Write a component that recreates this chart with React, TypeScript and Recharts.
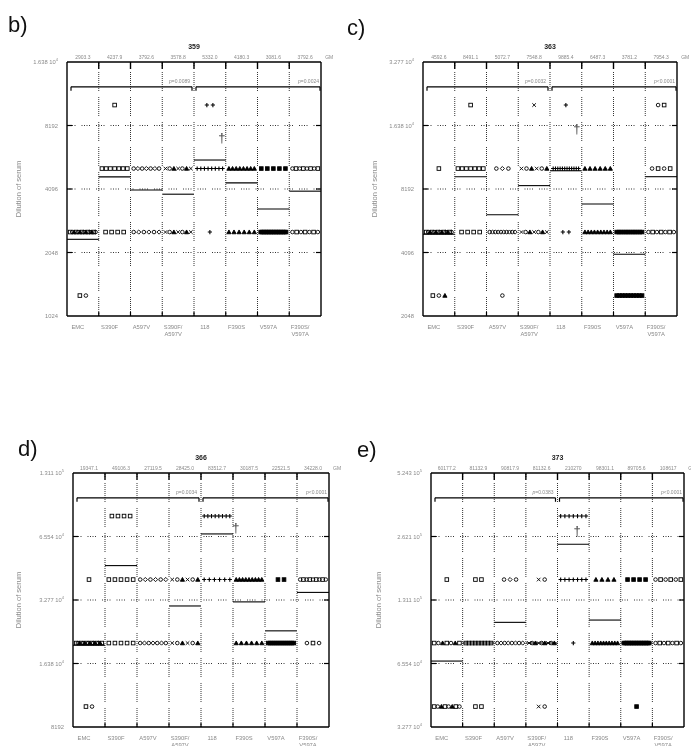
import { ScatterChart, Scatter, XAxis, YAxis, ReferenceLine, ReferenceDot } from "recharts"

const categories = ["EMC", "S390F", "A597V", "S390F/A597V", "118", "F390S", "V597A", "F390S/V597A"]

// panel b) 359
const yTicksB = [1024, 2048, 4096, 8192, 16384]
const levelsB = [1280, 2560, 5120, 10240]
// number of animals at each level (low -> high), one row per category
const countsB = [
    [2, 14, 0, 0],
    [0, 4, 7, 1],
    [0, 6, 7, 0],
    [0, 7, 7, 0],
    [0, 1, 8, 2],
    [0, 6, 8, 0],
    [0, 16, 5, 0],
    [0, 7, 8, 0],
]
const gmLabelsB = ["2903.3", "4237.9", "3792.6", "3578.8", "5332.0", "4180.3", "3081.6", "3792.6"]
const gmLinesB = [2365, 4675, 4050, 3870, 5620, 4380, 3290, 4000]
const pValuesB = ["=0.0089", "=0.0024"]

// panel c) 363
const yTicksC = [2048, 4096, 8192, 16384, 32768]
const levelsC = [2560, 5120, 10240, 20480]
const countsC = [
    [3, 14, 1, 0],
    [0, 4, 7, 1],
    [1, 10, 3, 0],
    [0, 7, 6, 1],
    [0, 2, 12, 1],
    [0, 9, 6, 0],
    [10, 12, 0, 0],
    [0, 7, 4, 2],
]
const gmLabelsC = ["4592.6", "8491.1", "5072.7", "7548.8", "9885.4", "6487.3", "3781.2", "7954.3"]
const gmLinesC = [5000, 9370, 6180, 8500, 10000, 6950, 4020, 9370]
const pValuesC = ["=0.0032", "<0.0001"]

// panel d) 366
const yTicksD = [8192, 16384, 32768, 65536, 131072]
const levelsD = [10240, 20480, 40960, 81920]
const countsD = [
    [2, 16, 1, 0],
    [0, 5, 5, 4],
    [0, 7, 6, 0],
    [0, 6, 6, 0],
    [0, 0, 6, 8],
    [0, 6, 9, 0],
    [0, 14, 2, 0],
    [0, 3, 9, 0],
]
const gmLabelsD = ["19347.1", "49106.3", "27119.5", "28425.0", "83512.7", "30187.5", "22521.5", "34228.0"]
const gmLinesD = [20000, 47700, null, 30700, 67400, 32100, 23400, 35600]
const pValuesD = ["=0.0034", "<0.0001"]

// panel e) 373
const yTicksE = [32768, 65536, 131072, 262144, 524288]
const levelsE = [40960, 81920, 163840, 327680]
const countsE = [
    [8, 7, 1, 0],
    [2, 9, 2, 0],
    [0, 8, 3, 0],
    [2, 9, 2, 0],
    [0, 1, 7, 7],
    [0, 10, 4, 0],
    [1, 16, 4, 0],
    [0, 7, 6, 0],
]
const gmLabelsE = ["60177.2", "81132.9", "90817.9", "81132.6", "210270", "98301.1", "89705.6", "108617"]
const gmLinesE = [67300, 81920, 102700, 81920, 241000, 105300, 81920, null]
const pValuesE = ["=0.0383", "<0.0001"]

// marker shapes used in each category column
const markerKinds = [
    ["sq", "ci", "tri"],
    ["sq"],
    ["ci", "di"],
    ["x", "ci", "tri"],
    ["plus"],
    ["tri"],
    ["fsq"],
    ["ci", "sq"],
]

const FONT = "'Liberation Sans', Arial, sans-serif"
const GREY = "#8a8a8a"
const centers = categories.map((_, i) => i + 0.5)
const V_DASH = Array(9).fill("1 1").join(" ") + " 1 6"
const H_DASH = "1 1.5 1 1.5 1 1.5 1 6"

const panels = [
    { key: "b", title: "359", yTicks: yTicksB, levels: levelsB, counts: countsB, gmLabels: gmLabelsB, gmLines: gmLinesB, pValues: pValuesB, bracket: 12500, dagger: { x: 4.88, y: 7230 }, box: { left: 67, top: 62, w: 254, h: 254 }, letter: { x: 8, y: 32 }, yLabelX: 21 },
    { key: "c", title: "363", yTicks: yTicksC, levels: levelsC, counts: countsC, gmLabels: gmLabelsC, gmLines: gmLinesC, pValues: pValuesC, bracket: 25000, dagger: { x: 4.85, y: 15960 }, box: { left: 423, top: 62, w: 254, h: 254 }, letter: { x: 347, y: 35 }, yLabelX: 377 },
    { key: "d", title: "366", yTicks: yTicksD, levels: levelsD, counts: countsD, gmLabels: gmLabelsD, gmLines: gmLinesD, pValues: pValuesD, bracket: 100000, dagger: { x: 5.09, y: 72700 }, box: { left: 73, top: 473, w: 256, h: 254 }, letter: { x: 18, y: 456 }, yLabelX: 21 },
    { key: "e", title: "373", yTicks: yTicksE, levels: levelsE, counts: countsE, gmLabels: gmLabelsE, gmLines: gmLinesE, pValues: pValuesE, bracket: 400000, dagger: { x: 4.62, y: 281000 }, box: { left: 431, top: 473, w: 253, h: 254 }, letter: { x: 357, y: 457 }, yLabelX: 381 },
]

const buildPoints = (levels: number[], counts: number[], cat: number) => {
    const kinds = markerKinds[cat]
    const pts: { x: number; y: number; kind: string }[] = []
    counts.forEach((n, j) => {
        const step = n > 1 ? Math.min(0.19, 0.8 / (n - 1)) : 0
        for (let k = 0; k < n; k++) {
            pts.push({ x: cat + 0.5 + (k - (n - 1) / 2) * step, y: levels[j], kind: kinds[k % kinds.length] })
        }
    })
    return pts
}

const renderMarker = (props: any) => {
    const { cx, cy, payload } = props
    const s = 1.8
    const st = { stroke: "#000", strokeWidth: 0.9 }
    switch (payload?.kind) {
        case "ci":
            return <circle cx={cx} cy={cy} r={s} fill="none" {...st} />
        case "di":
            return <path d={`M${cx},${cy - 2.1} L${cx + 2.1},${cy} L${cx},${cy + 2.1} L${cx - 2.1},${cy} Z`} fill="none" {...st} />
        case "x":
            return <path d={`M${cx - s},${cy - s} L${cx + s},${cy + s} M${cx - s},${cy + s} L${cx + s},${cy - s}`} {...st} />
        case "tri":
            return <path d={`M${cx},${cy - 2.1} L${cx + 2.1},${cy + 1.7} L${cx - 2.1},${cy + 1.7} Z`} fill="#000" {...st} />
        case "plus":
            return <path d={`M${cx - 2.1},${cy} L${cx + 2.1},${cy} M${cx},${cy - 2.1} L${cx},${cy + 2.1}`} {...st} strokeWidth={1.1} />
        case "fsq":
            return <rect x={cx - s} y={cy - s} width={2 * s} height={2 * s} fill="#000" {...st} />
        default:
            return <rect x={cx - s} y={cy - s} width={2 * s} height={2 * s} fill="none" {...st} />
    }
}

const YTick = (props: any) => {
    const { x, y, payload } = props
    const v = payload.value as number
    if (v >= 10000) {
        const e = Math.floor(Math.log10(v))
        const mant = (v / Math.pow(10, e)).toFixed(3)
        return (
            <text x={x - 1} y={y + 2} textAnchor="end" fontSize={5.8} fill={GREY} fontFamily={FONT}>
                <tspan>{mant} 10</tspan>
                <tspan dy={-2.7} fontSize={4}>{e}</tspan>
            </text>
        )
    }
    return (
        <text x={x - 1} y={y + 2} textAnchor="end" fontSize={5.8} fill={GREY} fontFamily={FONT}>{v}</text>
    )
}

const CatTick = (props: any) => {
    const { x, y, index } = props
    const name = categories[index]
    const parts = name.includes("/") ? [name.split("/")[0] + "/", name.split("/")[1]] : [name]
    const lx = x - 5
    return (
        <text x={lx} y={y + 5} textAnchor="middle" fontSize={5.8} fill={GREY} fontFamily={FONT}>
            {parts.map((p, i) => (
                <tspan key={i} x={lx} dy={i === 0 ? 0 : 6.5}>{p}</tspan>
            ))}
        </text>
    )
}

// free text placed at a data point through a ReferenceDot label
const Anno = (props: any) => {
    const { viewBox, text, italic, anchor, size, color, dy, extra } = props
    return (
        <g>
            <text x={viewBox.x} y={viewBox.y + (dy || 0)} textAnchor={anchor} fontSize={size} fill={color} stroke="none" fontFamily={FONT}>
                {italic && <tspan fontStyle="italic">{italic}</tspan>}
                {text}
            </text>
            {extra && (
                <text x={viewBox.x + 20} y={viewBox.y + (dy || 0)} textAnchor="start" fontSize={size} fill={color} stroke="none" fontFamily={FONT}>{extra}</text>
            )}
        </g>
    )
}

const Panel = ({ cfg }: { cfg: any }) => {
    const { box } = cfg
    const ymin = cfg.yTicks[0]
    const ymax = cfg.yTicks[cfg.yTicks.length - 1]
    const ratio = (px: number) => Math.pow(ymax / ymin, px / box.h)
    const ux = (px: number) => (px * 8) / box.w
    const series = categories.map((_, i) => buildPoints(cfg.levels, cfg.counts[i], i))
    const inner = cfg.yTicks.slice(1, -1)
    const bounds = [1, 2, 3, 4, 5, 6, 7]
    const br = cfg.bracket
    const brTick = br / ratio(4)

    return (
        <div style={{ position: "absolute", left: box.left - 60, top: box.top - 60, willChange: "transform" }}>
            <ScatterChart width={box.w + 90} height={box.h + 130} margin={{ top: 60, right: 30, left: 20, bottom: 40 }}>
                <XAxis type="number" dataKey="x" domain={[0, 8]} ticks={centers} interval={0} axisLine={false} tickLine={false} height={30} tick={<CatTick />} />
                <YAxis type="number" dataKey="y" scale="log" domain={[ymin, ymax]} ticks={cfg.yTicks} interval={0} axisLine={false} tickLine={false} width={40} tick={<YTick />} allowDataOverflow />

                {inner.map((t: number) => (
                    <ReferenceLine key={"h" + t} y={t} stroke="#000" strokeWidth={0.8} strokeDasharray={H_DASH} />
                ))}
                {bounds.map((i) => (
                    <ReferenceLine key={"v" + i} x={i} stroke="#000" strokeWidth={0.8} strokeDasharray={V_DASH} />
                ))}

                {/* frame + ticks */}
                <ReferenceLine x={0} stroke="#000" strokeWidth={1.4} />
                <ReferenceLine x={8} stroke="#000" strokeWidth={1.4} />
                <ReferenceLine y={ymin} stroke="#000" strokeWidth={1.4} />
                <ReferenceLine y={ymax} stroke="#000" strokeWidth={1.4} />
                {bounds.map((i) => (
                    <ReferenceLine key={"tt" + i} segment={[{ x: i, y: ymax }, { x: i, y: ymax / ratio(7) }]} stroke="#000" strokeWidth={1.4} />
                ))}
                {bounds.map((i) => (
                    <ReferenceLine key={"bt" + i} segment={[{ x: i, y: ymin }, { x: i, y: ymin * ratio(4) }]} stroke="#000" strokeWidth={1.2} />
                ))}
                {inner.map((t: number) => (
                    <ReferenceLine key={"lt" + t} segment={[{ x: 0, y: t }, { x: ux(5), y: t }]} stroke="#000" strokeWidth={1.2} />
                ))}
                {inner.map((t: number) => (
                    <ReferenceLine key={"rt" + t} segment={[{ x: 8 - ux(5), y: t }, { x: 8, y: t }]} stroke="#000" strokeWidth={1.2} />
                ))}

                {/* geometric means printed above the frame */}
                {cfg.gmLabels.map((g: string, i: number) => (
                    <ReferenceDot key={"gml" + i} x={centers[i]} y={ymax} r={0} fill="none" stroke="none" label={<Anno text={g} anchor="middle" size={5} color={GREY} dy={-3} extra={i === 7 ? "GM" : null} />} />
                ))}

                {/* brackets */}
                <ReferenceLine segment={[{ x: ux(4), y: br }, { x: 4 - ux(2), y: br }]} stroke="#000" strokeWidth={1.2} />
                <ReferenceLine segment={[{ x: 4 + ux(2), y: br }, { x: 8 - ux(1), y: br }]} stroke="#000" strokeWidth={1.2} />
                <ReferenceLine segment={[{ x: ux(4), y: br }, { x: ux(4), y: brTick }]} stroke="#000" strokeWidth={1.2} />
                <ReferenceLine segment={[{ x: 4 - ux(2), y: br }, { x: 4 - ux(2), y: brTick }]} stroke="#000" strokeWidth={1.2} />
                <ReferenceLine segment={[{ x: 4 + ux(2), y: br }, { x: 4 + ux(2), y: brTick }]} stroke="#000" strokeWidth={1.2} />
                <ReferenceLine segment={[{ x: 8 - ux(1), y: br }, { x: 8 - ux(1), y: brTick }]} stroke="#000" strokeWidth={1.2} />
                <ReferenceDot x={4 - ux(4)} y={br * ratio(4)} r={0} fill="none" stroke="none" label={<Anno italic="p" text={cfg.pValues[0]} anchor="end" size={5} color={GREY} />} />
                <ReferenceDot x={8 - ux(2)} y={br * ratio(4)} r={0} fill="none" stroke="none" label={<Anno italic="p" text={cfg.pValues[1]} anchor="end" size={5} color={GREY} />} />

                {/* geometric mean lines */}
                {cfg.gmLines.map((v: number | null, i: number) =>
                    v == null ? null : (
                        <ReferenceLine key={"gm" + i} segment={[{ x: i, y: v }, { x: i + 1, y: v }]} stroke="#000" strokeWidth={1.1} />
                    )
                )}

                <ReferenceDot x={cfg.dagger.x} y={cfg.dagger.y} r={0} fill="none" stroke="none" label={<Anno text="†" anchor="middle" size={13} color="#444" dy={5} />} />

                {series.map((pts, i) => (
                    <Scatter key={i} data={pts} isAnimationActive={false} shape={renderMarker} />
                ))}
            </ScatterChart>
        </div>
    )
}

export default function App() {
    return (
        <div style={{ position: "absolute", left: 0, top: 0, width: 691, height: 746, overflow: "hidden", background: "#fff", fontFamily: FONT }}>
            {panels.map((p) => (
                <Panel key={p.key} cfg={p} />
            ))}
            <svg width={691} height={746} style={{ position: "absolute", left: 0, top: 0, pointerEvents: "none", willChange: "transform" }}>
                {panels.map((p) => (
                    <g key={p.key}>
                        <text x={p.letter.x} y={p.letter.y} fontSize={22} fill="#111" fontFamily={FONT}>{p.key + ")"}</text>
                        <text x={p.box.left + p.box.w / 2} y={p.box.top - 13} textAnchor="middle" fontSize={7} fontWeight="bold" fill="#222" fontFamily={FONT}>{p.title}</text>
                        <text
                            x={p.yLabelX}
                            y={p.box.top + p.box.h / 2}
                            transform={`rotate(-90 ${p.yLabelX} ${p.box.top + p.box.h / 2})`}
                            textAnchor="middle"
                            fontSize={7.5}
                            fill={GREY}
                            fontFamily={FONT}
                        >
                            Dilution of serum
                        </text>
                    </g>
                ))}
            </svg>
        </div>
    )
}
